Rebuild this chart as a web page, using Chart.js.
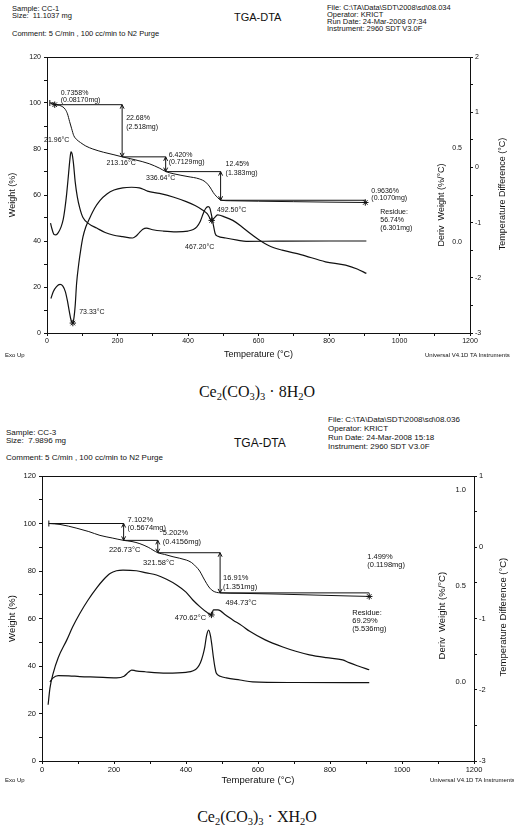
<!DOCTYPE html>
<html>
<head>
<meta charset="utf-8">
<script src="https://cdn.jsdelivr.net/npm/chart.js@4.4.1/dist/chart.umd.min.js"></script>
<style>
  body { margin: 0; background: #fff; width: 514px; height: 825px; position: relative; overflow: hidden;
         font-family: "Liberation Sans", Arial, sans-serif; color: #111; }
  .t { position: absolute; white-space: pre; line-height: 1; transform: translateY(-50%); }
  .s1 { font-size: 7.5px; }
  .s2 { font-size: 8px; }
  .tiny { font-size: 6px; }
  .f { font-family: "Liberation Serif", "DejaVu Serif", serif; font-size: 16px; left: 0; width: 514px; text-align: center; }
  .f sub { font-size: 10.5px; vertical-align: -3px; line-height: 0; }
  canvas { position: absolute; left: 0; }
</style>
</head>
<body>

<!-- CC-1 header -->
<div class="t s1" style="left:12px;top:9px">Sample: CC-1</div>
<div class="t s1" style="left:12px;top:16px">Size:  11.1037 mg</div>
<div class="t s1" style="left:12px;top:34px">Comment: 5 C/min , 100 cc/min to N2 Purge</div>
<div class="t" style="left:234px;top:17px;font-size:11px">TGA-DTA</div>
<div class="t s1" style="left:327px;top:8px">File: C:\TA\Data\SDT\2008\sd\08.034</div>
<div class="t s1" style="left:327px;top:15px">Operator: KRICT</div>
<div class="t s1" style="left:327px;top:22px">Run Date: 24-Mar-2008 07:34</div>
<div class="t s1" style="left:327px;top:29px">Instrument: 2960 SDT V3.0F</div>
<canvas id="cc1" width="514" height="315" style="top:45px"></canvas>
<div class="t tiny" style="left:5px;top:355px">Exo Up</div>
<div class="t tiny" style="left:425px;top:355px">Universal V4.1D TA Instruments</div>
<div class="t f" style="top:392px">Ce<sub>2</sub>(CO<sub>3</sub>)<sub>3</sub> &middot; 8H<sub>2</sub>O</div>

<!-- CC-3 header -->
<div class="t s2" style="left:6px;top:433px">Sample: CC-3</div>
<div class="t s2" style="left:6px;top:441px">Size:  7.9896 mg</div>
<div class="t s2" style="left:6px;top:458px">Comment: 5 C/min , 100 cc/min to N2 Purge</div>
<div class="t" style="left:234px;top:443px;font-size:12px">TGA-DTA</div>
<div class="t s2" style="left:328px;top:420px">File: C:\TA\Data\SDT\2008\sd\08.036</div>
<div class="t s2" style="left:328px;top:429px">Operator: KRICT</div>
<div class="t s2" style="left:328px;top:438px">Run Date: 24-Mar-2008 15:18</div>
<div class="t s2" style="left:328px;top:447px">Instrument: 2960 SDT V3.0F</div>
<canvas id="cc3" width="514" height="326" style="top:460px"></canvas>
<div class="t tiny" style="left:5px;top:780px">Exo Up</div>
<div class="t tiny" style="left:430px;top:780px">Universal V4.1D TA Instruments</div>
<div class="t f" style="top:817px">Ce<sub>2</sub>(CO<sub>3</sub>)<sub>3</sub> &middot; XH<sub>2</sub>O</div>

<script>
// tick labels
const tempTicks = [0, 200, 400, 600, 800, 1000, 1200];
const weightTicks = [0, 20, 40, 60, 80, 100, 120];

// ---- CC-1 : Ce2(CO3)3 . 8H2O ----
const cc1WeightT = [10, 22, 35, 45, 52, 58, 64, 70, 76, 85, 95, 110, 130, 160, 190, 213, 250, 290, 320, 337,
                    360, 400, 432, 450, 462, 472, 480, 488, 495, 520, 600, 700, 800, 903];
const cc1Weight = [100, 99.3, 99.0, 98.3, 97.2, 95.3, 92.0, 88.8, 85.8, 84.0, 82.8, 81.3, 80.0, 78.6, 77.5, 76.6, 75.3, 73.6, 71.6, 70.2,
                   69.2, 68.0, 67.0, 65.6, 63.5, 61.0, 59.5, 58.3, 57.7, 57.5, 57.3, 57.1, 56.9, 56.74];
const cc1DerivT = [10, 14, 20, 25, 32, 40, 46, 51, 56, 61, 65, 68, 71, 75, 80, 86, 93, 102, 120, 141,
                   165, 187, 215, 243, 252, 262, 272, 282, 300, 330, 367, 400, 415, 425, 435, 443, 450, 457, 462, 467,
                   472, 477, 485, 507, 540, 565, 650, 800, 906];
const cc1Deriv = [0.10, 0.07, 0.04, 0.038, 0.05, 0.08, 0.12, 0.18, 0.26, 0.36, 0.44, 0.48, 0.47, 0.42, 0.32, 0.24, 0.18, 0.13, 0.095, 0.074,
                  0.05, 0.037, 0.028, 0.021, 0.03, 0.05, 0.068, 0.074, 0.065, 0.058, 0.054, 0.058, 0.066, 0.08, 0.11, 0.15, 0.178, 0.188, 0.18, 0.14,
                  0.09, 0.045, 0.03, 0.021, 0.01, 0.003, 0.004, 0.005, 0.005];
const cc1DtaT = [11, 18, 27, 37, 45, 52, 58, 63, 68, 73.33, 77, 80, 84, 90, 96, 102, 110, 121, 135, 150,
                 170, 190, 215, 240, 262, 275, 285, 319, 360, 395, 420, 441, 455, 467.2, 474, 484, 505, 527, 550, 573,
                 601, 630, 667, 720, 790, 847, 880, 906];
const cc1Dta = [-2.375, -2.25, -2.16, -2.12, -2.15, -2.25, -2.42, -2.6, -2.76, -2.82, -2.7, -2.5, -2.1, -1.75, -1.48, -1.26, -1.08, -0.92, -0.74, -0.6,
                -0.48, -0.41, -0.37, -0.36, -0.37, -0.4, -0.43, -0.47, -0.54, -0.62, -0.69, -0.77, -0.84, -0.96, -0.92, -0.86, -0.9, -0.96, -1.06, -1.18,
                -1.31, -1.42, -1.5, -1.58, -1.71, -1.77, -1.84, -1.92];
const cc1StepT = [8, 21.96, 213.16, 336.64, 492.50, 903];
const cc1StepPct = [0.7358, 22.68, 6.420, 12.45, 0.9636];
const cc1StepMg = [0.08170, 2.518, 0.7129, 1.383, 0.1070];
const cc1Residue = [56.74, 6.301];
const cc1PeakT = [73.33, 467.20];
const cc1PeakDta = [-2.82, -0.96];

// ---- CC-3 : Ce2(CO3)3 . XH2O ----
const cc3WeightT = [19, 50, 97, 130, 161, 195, 226.73, 250, 272, 295, 321.58, 340, 364, 401, 415, 428, 438, 447, 457, 466,
                    475, 485, 494.73, 550, 650, 750, 850, 909];
const cc3Weight = [100, 99.6, 98, 96.6, 95, 93.9, 92.9, 92.4, 91.5, 90, 87.7, 87, 86, 84.6, 83.6, 81.8, 80, 77.5, 74.8, 72.8,
                   71.6, 71, 70.8, 70.6, 70.3, 69.9, 69.5, 69.29];
const cc3DerivT = [22, 30, 45, 75, 105, 150, 207, 228, 240, 249, 260, 286, 346, 400, 420, 432, 440, 447, 452, 457,
                   463, 468, 472, 476, 480, 484, 495, 512, 550, 585, 700, 909];
const cc3Deriv = [0.0, 0.02, 0.033, 0.032, 0.028, 0.025, 0.021, 0.03, 0.05, 0.062, 0.058, 0.053, 0.046, 0.05, 0.058, 0.075, 0.1, 0.14, 0.18, 0.24,
                  0.27, 0.24, 0.19, 0.13, 0.08, 0.046, 0.03, 0.021, 0.01, 0.0, -0.003, -0.004];
const cc3DtaT = [17, 22, 31, 45, 69, 85, 105, 128, 152, 170, 189, 207, 225, 262, 290, 318, 346, 374, 400, 419,
                 440, 457, 470.62, 476, 489, 510, 530, 555, 577, 620, 669, 705, 743, 790, 835, 853, 880, 909];
const cc3Dta = [-2.21, -1.98, -1.77, -1.55, -1.3, -1.12, -0.93, -0.74, -0.57, -0.46, -0.37, -0.33, -0.32, -0.33, -0.36, -0.39, -0.45, -0.53, -0.63, -0.74,
                -0.84, -0.91, -0.95, -0.88, -0.88, -0.95, -1.02, -1.1, -1.18, -1.3, -1.4, -1.46, -1.51, -1.55, -1.58, -1.62, -1.67, -1.72];
const cc3StepT = [19, 226.73, 321.58, 494.73, 909];
const cc3StepPct = [7.102, 5.202, 16.91, 1.499];
const cc3StepMg = [0.5674, 0.4156, 1.351, 0.1198];
const cc3Residue = [69.29, 5.536];
const cc3PeakT = [470.62];
const cc3PeakDta = [-0.95];

const ink = '#111';
const sans = '"Liberation Sans", Arial, sans-serif';
Chart.defaults.font.family = sans;
Chart.defaults.color = ink;

function pts(t, v) { return t.map((x, i) => ({x: x, y: v[i]})); }

function seg(ctx, x0, y0, x1, y1) {
  ctx.beginPath(); ctx.moveTo(x0, y0); ctx.lineTo(x1, y1); ctx.stroke();
}
function star(ctx, x, y) {
  const r = 3.2, q = r * 0.7;
  seg(ctx, x, y - r, x, y + r);
  seg(ctx, x - r, y, x + r, y);
  seg(ctx, x - q, y - q, x + q, y + q);
  seg(ctx, x - q, y + q, x + q, y - q);
}
function arrowHead(ctx, x, y, dir) {   // dir -1 points up, 1 points down
  seg(ctx, x - 2, y - dir * 4, x, y);
  seg(ctx, x + 2, y - dir * 4, x, y);
}
function vText(ctx, s, x, y) {
  ctx.save(); ctx.translate(x, y); ctx.rotate(-Math.PI / 2);
  ctx.textAlign = 'center'; ctx.textBaseline = 'middle';
  ctx.fillText(s, 0, 0); ctx.restore();
}

// step lines, labels, peak stars and the right-hand axis titles
function marks(m) {
  return {
    id: 'marks',
    afterDatasetsDraw(chart) {
      const {ctx, chartArea: a} = chart;
      const sx = chart.scales.x, sw = chart.scales.y, sd = chart.scales.dta;
      ctx.save();
      ctx.strokeStyle = ink; ctx.fillStyle = ink; ctx.lineWidth = 1;
      seg(ctx, a.left, a.top + 0.5, a.right, a.top + 0.5);

      let w = 100;
      const lvl = [100].concat(m.pct.map(p => (w -= p)));
      const xs = m.stepT.map(t => sx.getPixelForValue(t));
      const ys = lvl.map(v => sw.getPixelForValue(v));
      ctx.font = m.font;
      ctx.textBaseline = 'middle';
      seg(ctx, xs[0], ys[0] - 3, xs[0], ys[0] + 3);
      for (let i = 1; i < xs.length; i++) {
        seg(ctx, xs[i - 1], ys[i - 1], xs[i], ys[i - 1]);
        if (ys[i] - ys[i - 1] > 6) {
          seg(ctx, xs[i], ys[i - 1], xs[i], ys[i]);
          arrowHead(ctx, xs[i], ys[i - 1], -1);
          arrowHead(ctx, xs[i], ys[i], 1);
        } else {
          star(ctx, xs[i], ys[i]);
        }
        const o = m.pctOff[i - 1];
        ctx.textAlign = 'left';
        ctx.fillText(m.pct[i - 1].toPrecision(4) + '%', xs[i] + o[0], ys[i - 1] + o[1]);
        ctx.fillText('(' + m.mg[i - 1].toPrecision(4) + 'mg)', xs[i] + o[0], ys[i - 1] + o[2]);
        if (i < xs.length - 1) {
          const q = m.tempOff[i - 1];
          ctx.textAlign = 'center';
          ctx.fillText(m.stepT[i].toFixed(2) + '°C', xs[i] + q[0], ys[i] + q[1]);
        }
      }
      const n = xs.length - 1;
      ctx.textAlign = 'left';
      ['Residue:', m.res[0].toFixed(2) + '%', '(' + m.res[1].toFixed(3) + 'mg)'].forEach((s, k) => {
        ctx.fillText(s, xs[n] + m.resOff[0], ys[n] + m.resOff[1] + k * 8);
      });

      m.peakT.forEach((t, i) => {
        const px = sx.getPixelForValue(t), py = sd.getPixelForValue(m.peakV[i]);
        star(ctx, px, py);
        ctx.textAlign = 'center';
        ctx.fillText(t.toFixed(2) + '°C', px + m.peakOff[i][0], py + m.peakOff[i][1]);
      });

      ctx.font = m.titleFont;
      const h = a.bottom - a.top;
      vText(ctx, 'Deriv  Weight (%/°C)', a.right + m.derivTitle[0], a.top + m.derivTitle[1] * h);
      vText(ctx, 'Temperature Difference (°C)', a.right + m.dtaTitle[0], a.top + m.dtaTitle[1] * h);
      ctx.restore();
    }
  };
}

function makeChart(id, d, m) {
  const tickFont = {size: m.tickSize};
  const titleFont = {size: m.titleSize};
  const line = (data, axis, bw) => ({
    data: data, yAxisID: axis, borderColor: ink, borderWidth: bw,
    pointRadius: 0, fill: false, cubicInterpolationMode: 'monotone'
  });
  return new Chart(document.getElementById(id), {
    type: 'line',
    data: {
      datasets: [
        line(pts(d.wT, d.w), 'y', 1),
        line(pts(d.dT, d.d), 'deriv', 1.2),
        line(pts(d.tT, d.t), 'dta', 1.2)
      ]
    },
    options: {
      responsive: false,
      animation: false,
      layout: {padding: {top: m.top, left: 0, right: 0, bottom: 0}},
      plugins: {legend: {display: false}, tooltip: {enabled: false}},
      scales: {
        x: {
          type: 'linear', position: 'bottom', min: 0, max: 1200,
          ticks: {stepSize: 100, autoSkip: false, maxRotation: 0, padding: 1, font: tickFont,
                  callback: v => tempTicks.includes(v) ? String(v) : ''},
          grid: {drawOnChartArea: false, tickLength: 3, color: ink},
          border: {color: ink},
          title: {display: true, text: 'Temperature (°C)', font: titleFont, padding: 0},
          afterFit: s => { s.height = m.xh; }
        },
        y: {
          position: 'left', min: 0, max: 120,
          ticks: {stepSize: 10, autoSkip: false, padding: 3, font: tickFont,
                  callback: v => weightTicks.includes(v) ? String(v) : ''},
          grid: {drawOnChartArea: false, tickLength: 3, color: ink},
          border: {color: ink},
          title: {display: true, text: 'Weight (%)', font: titleFont, padding: {top: 7, bottom: 0}},
          afterFit: s => { s.width = m.left; }
        },
        deriv: {
          position: 'right', min: d.derivRange[0], max: d.derivRange[1], weight: 0,
          afterBuildTicks: s => { s.ticks = d.derivTicks.map(v => ({value: v})); },
          ticks: {mirror: true, padding: -8, font: tickFont, callback: v => v.toFixed(1)},
          grid: {display: false, drawTicks: false},
          border: {display: false},
          afterFit: s => { s.width = 0; }
        },
        dta: {
          position: 'right', min: -3, max: d.dtaMax, weight: 1,
          ticks: {stepSize: 0.5, autoSkip: false, padding: 2, font: tickFont,
                  callback: v => Number.isInteger(v) ? String(v) : ''},
          grid: {drawOnChartArea: false, tickLength: 3, color: ink},
          border: {color: ink},
          afterFit: s => { s.width = m.right; }
        }
      }
    },
    plugins: [marks(m)]
  });
}

makeChart('cc1', {
  wT: cc1WeightT, w: cc1Weight, dT: cc1DerivT, d: cc1Deriv, tT: cc1DtaT, t: cc1Dta,
  derivRange: [-0.485, 0.985], derivTicks: [0, 0.5], dtaMax: 2
}, {
  top: 12, left: 47, right: 44, xh: 27, tickSize: 7, titleSize: 9,
  font: '7px ' + sans, titleFont: '9px ' + sans,
  stepT: cc1StepT, pct: cc1StepPct, mg: cc1StepMg, res: cc1Residue,
  pctOff: [[6, -10, -3], [4, 13, 22], [3, -2, 5], [5, -8, 1], [6, -9, -2]],
  tempOff: [[2, 35], [-1, 6], [-5, 6], [11, 10]],
  resOff: [15, 10],
  peakT: cc1PeakT, peakV: cc1PeakDta, peakOff: [[19, -11], [-12, 27]],
  derivTitle: [-28, 0.536], dtaTitle: [33, 0.496]
});

makeChart('cc3', {
  wT: cc3WeightT, w: cc3Weight, dT: cc3DerivT, d: cc3Deriv, tT: cc3DtaT, t: cc3Dta,
  derivRange: [-0.412, 1.073], derivTicks: [0, 0.5, 1.0], dtaMax: 1
}, {
  top: 16, left: 42, right: 40, xh: 25, tickSize: 7.5, titleSize: 9.5,
  font: '7.5px ' + sans, titleFont: '9.5px ' + sans,
  stepT: cc3StepT, pct: cc3StepPct, mg: cc3StepMg, res: cc3Residue,
  pctOff: [[4, -4, 4], [5, -7, 2], [3, 25, 34], [-2, -36, -28]],
  tempOff: [[1, 10], [1, 10], [21, 10]],
  resOff: [-17, 16],
  peakT: cc3PeakT, peakV: cc3PeakDta, peakOff: [[-21, 3]],
  derivTitle: [-32, 0.49], dtaTitle: [29, 0.495]
});
</script>
</body>
</html>
